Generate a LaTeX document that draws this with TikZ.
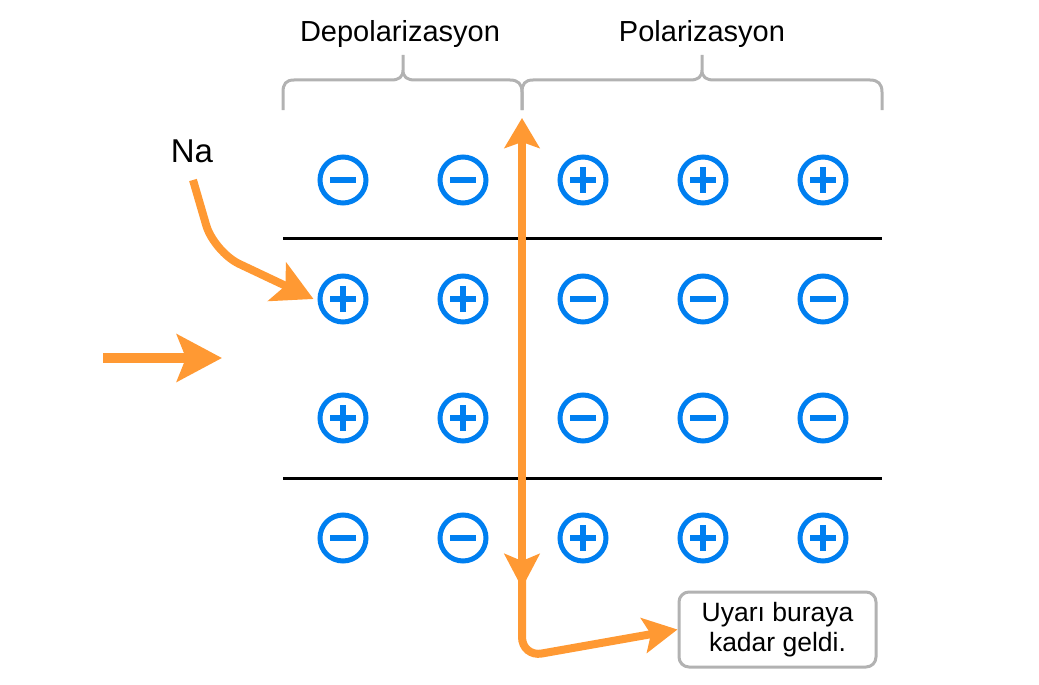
\documentclass[tikz,border=0pt]{standalone}
\usepackage{fontspec}
\setmainfont{Liberation Sans}
\usetikzlibrary{arrows.meta,calc}
\definecolor{ora}{RGB}{255,153,51}
\definecolor{ionblue}{RGB}{0,127,240}
\definecolor{brgray}{RGB}{178,178,178}
\definecolor{boxgray}{RGB}{178,178,178}
\begin{document}
\begin{tikzpicture}[x=1pt,y=-1pt,
  ion/.style={circle,draw=ionblue,line width=5pt,minimum size=46pt,inner sep=0pt},
  negion/.style={ion,path picture={\fill[ionblue] ([xshift=-13pt,yshift=-3pt]path picture bounding box.center) rectangle ([xshift=13pt,yshift=3pt]path picture bounding box.center);}},
  posion/.style={ion,path picture={\fill[ionblue] ([xshift=-13pt,yshift=-3pt]path picture bounding box.center) rectangle ([xshift=13pt,yshift=3pt]path picture bounding box.center);
     \fill[ionblue] ([xshift=-3pt,yshift=-13pt]path picture bounding box.center) rectangle ([xshift=3pt,yshift=13pt]path picture bounding box.center);}},
  membrane/.style={draw=black,line width=3pt},
  brace/.style={draw=brgray,line width=3pt},
  hdr/.style={font=\fontsize{29}{34}\selectfont,anchor=base,inner sep=0pt},
  flow/.style={draw=ora,line width=8pt},
  tipA/.style={-{Stealth[length=34pt,width=35pt,inset=7pt]}},
  note/.style={draw=boxgray,line width=3pt,rounded corners=10pt,minimum width=197pt,minimum height=75pt,align=center,font=\fontsize{26.5}{30}\selectfont,fill=white}
]
\useasboundingbox (0,0) rectangle (1039,685);

% headers
\node[hdr] (dep) at (400,42) {Depolarizasyon};
\node[hdr] (pol) at (702,42) {Polarizasyon};

% braces
\path[brace] (283,110) -- (283,92) .. controls (283,84) and (286,80) .. (294,80) -- (391,80)
   .. controls (399,80) and (403,77) .. (403,70) -- (403,55)
   (403,70) .. controls (403,77) and (407,80) .. (415,80) -- (510,80)
   .. controls (518,80) and (522,84) .. (522,92) -- (522,110);
\path[brace] (522,110) -- (522,92) .. controls (522,84) and (525,80) .. (533,80) -- (690,80)
   .. controls (698,80) and (702,77) .. (702,70) -- (702,55)
   (702,70) .. controls (702,77) and (706,80) .. (714,80) -- (870,80)
   .. controls (878,80) and (882,84) .. (882,92) -- (882,110);

% membranes
\draw[membrane] (283,238) coordinate (m1a) -- (882,238) coordinate (m1b);
\draw[membrane] (283,478) coordinate (m2a) -- (882,478) coordinate (m2b);

% ions
\node[negion] (a1) at (343,180) {};
\node[negion] (a2) at (463,180) {};
\node[posion] (a3) at (583,180) {};
\node[posion] (a4) at (703,180) {};
\node[posion] (a5) at (823,180) {};
\node[posion] (b1) at (343,299) {};
\node[posion] (b2) at (463,299) {};
\node[negion] (b3) at (583,299) {};
\node[negion] (b4) at (703,299) {};
\node[negion] (b5) at (823,299) {};
\node[posion] (c1) at (343,418) {};
\node[posion] (c2) at (463,418) {};
\node[negion] (c3) at (583,418) {};
\node[negion] (c4) at (703,418) {};
\node[negion] (c5) at (823,418) {};
\node[negion] (d1) at (343,538) {};
\node[negion] (d2) at (463,538) {};
\node[posion] (d3) at (583,538) {};
\node[posion] (d4) at (703,538) {};
\node[posion] (d5) at (823,538) {};

% Na label and arrow
\node[font=\fontsize{33}{38}\selectfont,anchor=base,inner sep=0pt] (na) at (192,162) {Na};
\coordinate (naS) at (193,180);
\draw[flow,-{Stealth[length=40pt,width=42pt,inset=9pt]},rounded corners=28pt]
   (naS) -- (214,252) -- ([xshift=-4pt]b1.west);

% stimulus arrow
\coordinate (stA) at (103,358);
\coordinate (stB) at (222,358);
\draw[draw=ora,line width=10pt,-{Stealth[length=45pt,width=47pt,inset=9pt]}] (stA) -- (stB);

% propagation
\coordinate (vTop) at (522,118);
\coordinate (vMid) at (522,588);
\draw[flow,{Stealth[length=34pt,width=35pt,inset=7pt]}-{Stealth[length=30pt,width=35pt,inset=6pt]}] (vMid) -- (vTop);

\node[note] (box) at (777.5,629.5) {Uyarı buraya\\kadar geldi.};
\draw[flow,tipA,rounded corners=20pt] ([yshift=12pt]vMid) -- (522,657) -- (box.west);
\end{tikzpicture}
\end{document}
